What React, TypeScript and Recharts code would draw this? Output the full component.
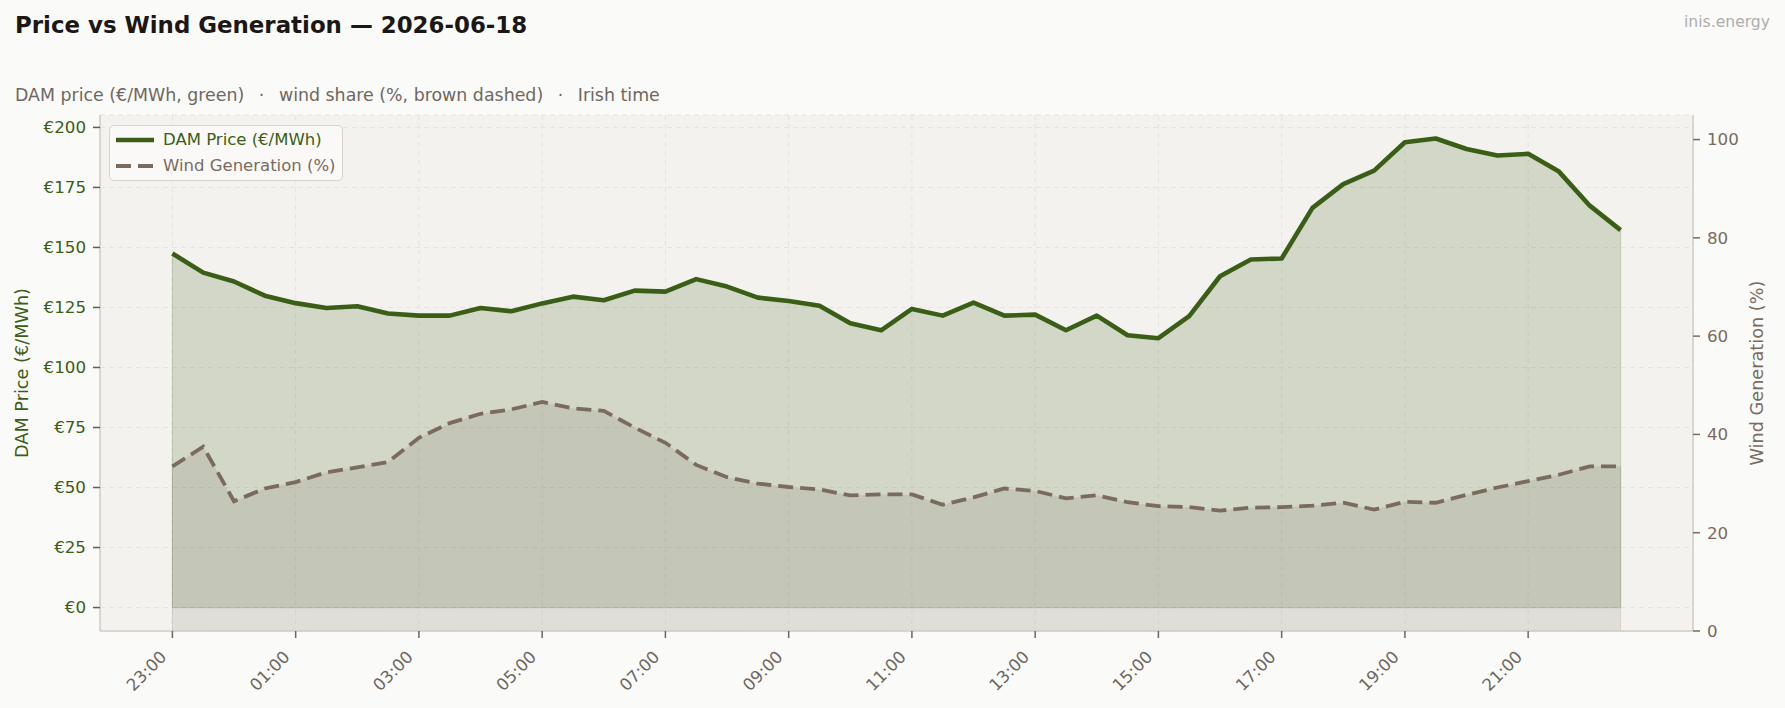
import React from 'react';
import { ComposedChart, Area, XAxis, YAxis, CartesianGrid, Legend, ReferenceLine } from 'recharts';

const FONT = '"DejaVu Sans", "Liberation Sans", sans-serif';
const GREEN = '#3B5E16';
const BROWN = '#7A6B5E';
const SPINE = '#D2CDC5';

const timeLabels = [
  '23:00', '23:30', '00:00', '00:30', '01:00', '01:30', '02:00', '02:30',
  '03:00', '03:30', '04:00', '04:30', '05:00', '05:30', '06:00', '06:30',
  '07:00', '07:30', '08:00', '08:30', '09:00', '09:30', '10:00', '10:30',
  '11:00', '11:30', '12:00', '12:30', '13:00', '13:30', '14:00', '14:30',
  '15:00', '15:30', '16:00', '16:30', '17:00', '17:30', '18:00', '18:30',
  '19:00', '19:30', '20:00', '20:30', '21:00', '21:30', '22:00', '22:30',
];

const priceValues = [
  147.5, 139.5, 135.8, 129.9, 126.8, 124.8, 125.5, 122.5,
  121.6, 121.6, 124.8, 123.4, 126.7, 129.5, 128.0, 132.0,
  131.6, 136.8, 133.7, 129.1, 127.7, 125.7, 118.4, 115.5,
  124.4, 121.6, 127.0, 121.6, 122.0, 115.5, 121.6, 113.4,
  112.2, 121.4, 138.0, 145.0, 145.4, 166.5, 176.4, 182.0,
  193.8, 195.4, 191.0, 188.3, 189.0, 181.6, 167.4, 157.2,
];

const windValues = [
  33.5, 37.5, 26.4, 29.0, 30.3, 32.3, 33.3, 34.4,
  39.3, 42.3, 44.2, 45.1, 46.6, 45.3, 44.8, 41.4,
  38.3, 33.8, 31.3, 30.0, 29.3, 28.8, 27.6, 27.8,
  27.8, 25.7, 27.2, 29.0, 28.5, 27.0, 27.6, 26.2,
  25.4, 25.2, 24.5, 25.1, 25.2, 25.5, 26.1, 24.7,
  26.3, 26.1, 27.7, 29.2, 30.5, 31.8, 33.5, 33.5,
];

const xTickIndices = [0, 4, 8, 12, 16, 20, 24, 28, 32, 36, 40, 44];
const priceTicks = [0, 25, 50, 75, 100, 125, 150, 175, 200];
const windTicks = [0, 20, 40, 60, 80, 100];

const SEP = '  \u2009·\u2009  ';
const subtitleParts = ['DAM price (€/MWh, green)', 'wind share (%, brown dashed)', 'Irish time'];

const XTick = (props: any) => {
  const { x, y, payload } = props;
  const px = x - 5;
  const py = y + 13;
  return (
    <text
      x={px}
      y={py}
      textAnchor="end"
      transform={`rotate(-45 ${px} ${py})`}
      fill="#6E665F"
      fontSize={16.7}
      fontFamily={FONT}
    >
      {timeLabels[payload.value]}
    </text>
  );
};

const LegendBox = () => (
  <div
    style={{
      position: 'relative',
      width: 234,
      height: 56,
      boxSizing: 'border-box',
      border: '1.5px solid #D8D3CB',
      borderRadius: 5,
      background: 'rgba(250,250,248,0.85)',
      fontFamily: FONT,
      fontSize: 16.5,
    }}
  >
    <svg width={40} height={56} style={{ position: 'absolute', left: 5, top: 0 }}>
      <line x1={1} y1={14} x2={39} y2={14} stroke={GREEN} strokeWidth={4.6} />
      <line x1={1} y1={40} x2={39} y2={40} stroke={BROWN} strokeWidth={3.8} strokeDasharray="15 7" />
    </svg>
    <div style={{ position: 'absolute', left: 53, top: 3, color: GREEN, whiteSpace: 'nowrap', lineHeight: '22px' }}>
      DAM Price (€/MWh)
    </div>
    <div style={{ position: 'absolute', left: 53, top: 29, color: BROWN, whiteSpace: 'nowrap', lineHeight: '22px' }}>
      Wind Generation (%)
    </div>
  </div>
);

export default function App() {
  const data = timeLabels.map((t, i) => ({
    i,
    time: t,
    price: priceValues[i],
    wind: windValues[i],
  }));
  const last = timeLabels.length - 1;

  return (
    <div
      style={{
        position: 'absolute',
        left: 0,
        top: 0,
        width: 1785,
        height: 708,
        background: '#FAFAF8',
        fontFamily: FONT,
        overflow: 'hidden',
      }}
    >
      <ComposedChart
        width={1785}
        height={708}
        data={data}
        margin={{ top: 115, right: 0, bottom: 0, left: 0 }}
      >
        <CartesianGrid
          yAxisId="price"
          fill="#F3F2EE"
          stroke="#E6E3DE"
          strokeDasharray="5 4"
          strokeWidth={1}
        />
        <XAxis
          dataKey="i"
          type="number"
          domain={[-2.35, 49.35]}
          ticks={xTickIndices}
          interval={0}
          allowDataOverflow
          height={77}
          tickSize={7}
          tickMargin={7}
          axisLine={{ stroke: SPINE, strokeWidth: 1.5 }}
          tickLine={{ stroke: '#6E665F', strokeWidth: 1.5 }}
          tick={<XTick />}
        />
        <XAxis
          xAxisId="top"
          orientation="top"
          dataKey="i"
          type="number"
          domain={[-2.35, 49.35]}
          height={0}
          tick={false}
          tickLine={false}
          axisLine={{ stroke: SPINE, strokeWidth: 1.5 }}
        />
        <YAxis
          yAxisId="price"
          type="number"
          domain={[-9.77, 205.17]}
          ticks={priceTicks}
          allowDataOverflow
          width={100}
          tickSize={7}
          tickMargin={7}
          tickFormatter={(v: number) => `€${v}`}
          axisLine={{ stroke: SPINE, strokeWidth: 1.5 }}
          tickLine={{ stroke: '#55644A', strokeWidth: 1.5 }}
          tick={{ fill: GREEN, fontSize: 16.7, fontFamily: FONT }}
        />
        <YAxis
          yAxisId="wind"
          orientation="right"
          type="number"
          domain={[0, 105]}
          ticks={windTicks}
          allowDataOverflow
          width={92}
          tickSize={7}
          tickMargin={7}
          axisLine={{ stroke: SPINE, strokeWidth: 1.5 }}
          tickLine={{ stroke: BROWN, strokeWidth: 1.5 }}
          tick={{ fill: BROWN, fontSize: 16.7, fontFamily: FONT, textAnchor: 'start' }}
        />
        <Area
          yAxisId="price"
          type="linear"
          dataKey="price"
          baseValue={0}
          stroke={GREEN}
          strokeWidth={4.6}
          strokeLinejoin="round"
          fill={GREEN}
          fillOpacity={0.18}
          dot={false}
          activeDot={false}
          isAnimationActive={false}
        />
        <Area
          yAxisId="wind"
          type="linear"
          dataKey="wind"
          baseValue={0}
          stroke={BROWN}
          strokeWidth={3.8}
          strokeDasharray="15 7"
          fill={BROWN}
          fillOpacity={0.15}
          dot={false}
          activeDot={false}
          isAnimationActive={false}
        />
        <ReferenceLine
          yAxisId="price"
          segment={[{ x: 0, y: 0 }, { x: last, y: 0 }]}
          stroke={GREEN}
          strokeOpacity={0.18}
          strokeWidth={1.2}
        />
        <ReferenceLine
          yAxisId="price"
          segment={[{ x: 0, y: 0 }, { x: 0, y: priceValues[0] }]}
          stroke={GREEN}
          strokeOpacity={0.18}
          strokeWidth={1.2}
        />
        <ReferenceLine
          yAxisId="price"
          segment={[{ x: last, y: 0 }, { x: last, y: priceValues[last] }]}
          stroke={GREEN}
          strokeOpacity={0.18}
          strokeWidth={1.2}
        />
        <ReferenceLine
          yAxisId="wind"
          segment={[{ x: 0, y: 0 }, { x: 0, y: windValues[0] }]}
          stroke={BROWN}
          strokeOpacity={0.15}
          strokeWidth={1.2}
        />
        <ReferenceLine
          yAxisId="wind"
          segment={[{ x: last, y: 0 }, { x: last, y: windValues[last] }]}
          stroke={BROWN}
          strokeOpacity={0.15}
          strokeWidth={1.2}
        />
        <Legend
          layout="vertical"
          align="center"
          verticalAlign="middle"
          wrapperStyle={{ left: 109, top: 125, width: 234, height: 56 }}
          content={() => <LegendBox />}
        />
      </ComposedChart>
      <svg
        width={1785}
        height={708}
        style={{ position: 'absolute', left: 0, top: 0, pointerEvents: 'none' }}
      >
        <text x={15} y={33} fontSize={22.9} fontWeight="bold" fill="#1A1714" fontFamily={FONT}>
          Price vs Wind Generation — 2026-06-18
        </text>
        <text x={15} y={101} fontSize={17.4} fill="#6F6860" fontFamily={FONT} style={{ whiteSpace: 'pre' }}>
          {subtitleParts.join(SEP)}
        </text>
        <text x={1770} y={27} fontSize={15.6} fill="#ADADAD" textAnchor="end" fontFamily={FONT}>
          inis.energy
        </text>
        <text
          x={22}
          y={373}
          fontSize={17.7}
          fill={GREEN}
          textAnchor="middle"
          dominantBaseline="central"
          transform="rotate(-90 22 373)"
          fontFamily={FONT}
        >
          DAM Price (€/MWh)
        </text>
        <text
          x={1757}
          y={373}
          fontSize={17.7}
          fill={BROWN}
          textAnchor="middle"
          dominantBaseline="central"
          transform="rotate(-90 1757 373)"
          fontFamily={FONT}
        >
          Wind Generation (%)
        </text>
      </svg>
    </div>
  );
}
